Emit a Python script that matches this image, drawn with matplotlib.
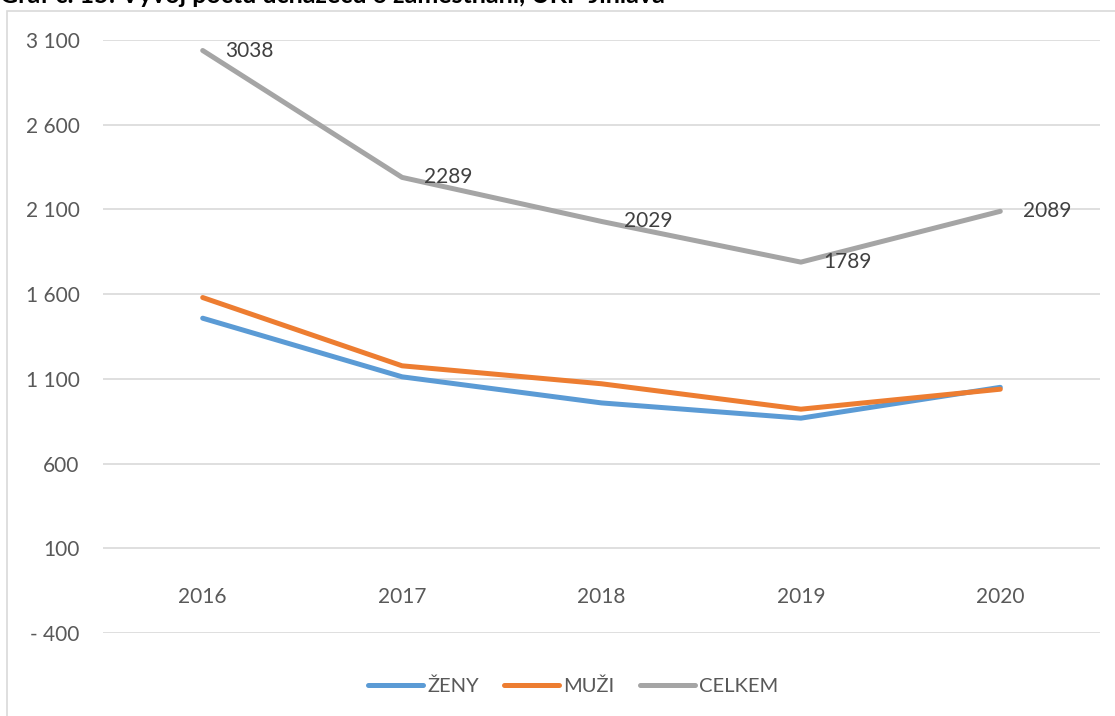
import matplotlib
matplotlib.use("Agg")
import matplotlib.pyplot as plt
from matplotlib.patches import Rectangle
from matplotlib.ticker import FuncFormatter

years = ["2016", "2017", "2018", "2019", "2020"]
zeny = [1458, 1112, 958, 868, 1050]
muzi = [1580, 1177, 1071, 921, 1039]
celkem = [3038, 2289, 2029, 1789, 2089]
series_names = ["ŽENY", "MUŽI", "CELKEM"]
colors = ["#5B9BD5", "#ED7D31", "#A5A5A5"]

plt.rcParams["font.family"] = ["Lato", "DejaVu Sans"]
W, H = 1115, 716
fig = plt.figure(figsize=(W / 100, H / 100), dpi=100)

# chart border (Excel chart area)
fig.patches.append(Rectangle((7 / W, -0.01), 1.0, (H - 11) / H + 0.01, transform=fig.transFigure,
                             fill=False, edgecolor="#D9D9D9", linewidth=1.2))

# title, cut off at the top edge as in the source
fig.text(0.0, 1 - 3 / H, "Graf č. 15: Vývoj počtu uchazečů o zaměstnání, ÚKP Jihlava",
         ha="left", va="baseline", fontsize=18, fontweight="bold", color="#000000")

ax = fig.add_axes([103 / W, 83 / H, (1100 - 103) / W, (633 - 40) / H])
x = [i + 0.5 for i in range(len(years))]
for vals, name, c in zip([zeny, muzi, celkem], series_names, colors):
    ax.plot(x, vals, color=c, linewidth=3.6, solid_capstyle="round", solid_joinstyle="round", label=name)

for xi, v in zip(x, celkem):
    ax.annotate(str(v), (xi, v), xytext=(16, 0), textcoords="offset points",
                ha="left", va="center", fontsize=15, color="#404040")

ax.set_xlim(0, 5)
ax.set_ylim(-400, 3100)
ax.set_yticks(range(-400, 3101, 500))


def fmt(v, pos):
    s = f"{abs(int(v)):,}".replace(",", " ")
    return "- " + s if v < 0 else s


ax.yaxis.set_major_formatter(FuncFormatter(fmt))
ax.grid(axis="y", color="#D9D9D9", linewidth=1.2)
ax.set_axisbelow(True)
for s in ax.spines.values():
    s.set_visible(False)
ax.tick_params(axis="y", length=0, labelsize=15, labelcolor="#595959", pad=17)
ax.set_xticks([])
for xi, yr in zip(x, years):
    ax.text(xi, -190, yr, ha="center", va="center", fontsize=15, color="#595959")

fig.legend(loc="center", bbox_to_anchor=(0.514, 1 - 686 / H), ncol=3, frameon=False,
           fontsize=14.5, handlelength=2.75, handletextpad=0.2, columnspacing=1.25,
           labelcolor="#595959")

fig.savefig("out.png", dpi=100)
